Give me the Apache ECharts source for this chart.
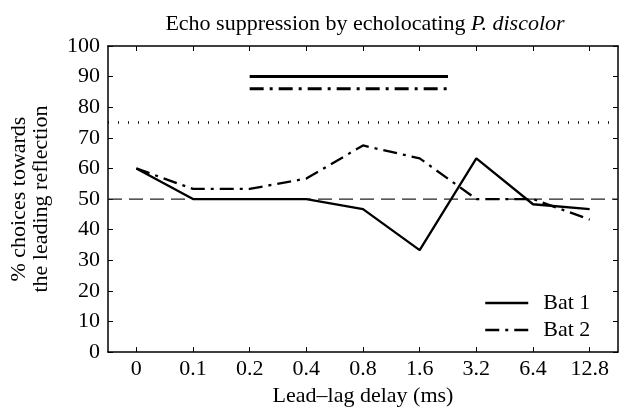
<!DOCTYPE html>
<html>
<head>
<meta charset="utf-8">
<script src="https://cdn.jsdelivr.net/npm/echarts@6/dist/echarts.min.js"></script>
<style>
  html, body { margin: 0; padding: 0; background: #fff; }
  #chart { width: 619px; height: 412px; }
</style>
</head>
<body>
<div id="chart"></div>
<script>
// lead-lag delays (ms) and % choices towards the leading reflection
const delays = ['0', '0.1', '0.2', '0.4', '0.8', '1.6', '3.2', '6.4', '12.8']
const bat1 = [60, 50, 50, 50, 46.7, 33.3, 63.3, 48.3, 46.7]
const bat2 = [60, 53.3, 53.3, 56.7, 67.5, 63.3, 50, 50, 43.3]

// reference levels
const chanceLevel = 50
const criterionLevel = 75
// significance bars: [start index, end index, level]
const bat1Bar = [2, 5.5, 90]
const bat2Bar = [2, 5.5, 86]

const font = 'Liberation Serif'
const fs = 22
const dashDot = [14, 6, 3, 6]

const chart = echarts.init(document.getElementById('chart'))

const catAxis = (pos, labels) => ({
  type: 'category',
  data: delays,
  position: pos,
  boundaryGap: true,
  axisLine: { show: true, onZero: false, lineStyle: { color: '#000', width: 1.5 } },
  axisTick: { show: true, inside: true, alignWithLabel: true, length: 5, lineStyle: { color: '#000' } },
  axisLabel: { show: labels, color: '#000', fontFamily: font, fontSize: fs, margin: 6 },
  splitLine: { show: false }
})

const valAxis = (pos, labels) => ({
  type: 'value',
  position: pos,
  min: 0,
  max: 100,
  interval: 10,
  axisLine: { show: true, onZero: false, lineStyle: { color: '#000', width: 1.5 } },
  axisTick: { show: true, inside: true, length: 5, lineStyle: { color: '#000' } },
  axisLabel: { show: labels, color: '#000', fontFamily: font, fontSize: fs, margin: 8 },
  splitLine: { show: false }
})

const hline = (y, x0, x1, style) => ({
  type: 'line',
  xAxisIndex: 2,
  yAxisIndex: 0,
  data: [[x0, y], [x1, y]],
  symbol: 'none',
  silent: true,
  lineStyle: style
})

const xBottom = catAxis('bottom', true)
xBottom.name = 'Lead\u2013lag delay (ms)'
xBottom.nameLocation = 'middle'
xBottom.nameGap = 29
xBottom.nameTextStyle = { color: '#000', fontFamily: font, fontSize: fs }

const yLeft = valAxis('left', true)
yLeft.name = '% choices towards\nthe leading reflection'
yLeft.nameLocation = 'middle'
yLeft.nameGap = 56
yLeft.nameTextStyle = { color: '#000', fontFamily: font, fontSize: fs, lineHeight: 22 }

chart.setOption({
  animation: false,
  backgroundColor: '#fff',
  title: {
    text: 'Echo suppression by echolocating {i|P. discolor}',
    left: 360,
    textAlign: 'center',
    top: 8,
    textStyle: {
      color: '#000', fontFamily: font, fontSize: fs, fontWeight: 'normal',
      rich: { i: { fontFamily: font, fontSize: fs, fontStyle: 'italic', color: '#000' } }
    }
  },
  grid: { left: 107, right: 1, top: 46, bottom: 59 },
  legend: {
    orient: 'vertical',
    left: 479,
    top: 287,
    itemWidth: 43,
    itemHeight: 14,
    itemGap: 5,
    data: ['Bat 1', 'Bat 2'],
    itemStyle: { opacity: 0 },
    lineStyle: { width: 2.5 },
    textStyle: { color: '#000', fontFamily: font, fontSize: fs, lineHeight: 22, padding: [0, 0, 0, 10] }
  },
  xAxis: [
    xBottom,
    catAxis('top', false),
    { type: 'value', min: -0.5, max: 8.5, show: false }
  ],
  yAxis: [yLeft, valAxis('right', false)],
  series: [
    hline(criterionLevel, -0.5, 8.5, { color: '#000', width: 2.5, type: [1, 9] }),
    hline(chanceLevel, -0.5, 8.5, { color: '#222', width: 1.3, type: [14, 7] }),
    hline(bat1Bar[2], bat1Bar[0], bat1Bar[1], { color: '#000', width: 3, type: 'solid' }),
    hline(bat2Bar[2], bat2Bar[0], bat2Bar[1], { color: '#000', width: 3, type: dashDot }),
    {
      name: 'Bat 1',
      type: 'line',
      data: bat1,
      symbol: 'none',
      color: '#000',
      lineStyle: { color: '#000', width: 2.3, type: 'solid' }
    },
    {
      name: 'Bat 2',
      type: 'line',
      data: bat2,
      symbol: 'none',
      color: '#000',
      lineStyle: { color: '#000', width: 2.3, type: dashDot }
    }
  ]
})
</script>
</body>
</html>
